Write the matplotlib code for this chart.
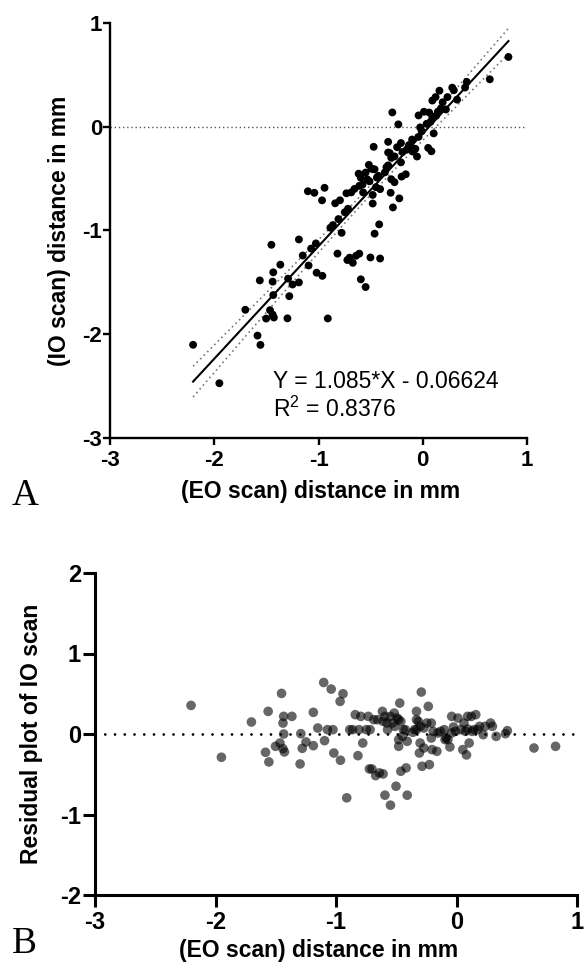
import numpy as np
import matplotlib
matplotlib.use("Agg")
import matplotlib.pyplot as plt

plt.rcParams['font.family'] = ['Liberation Sans', 'DejaVu Sans']
plt.rcParams['axes.unicode_minus'] = False
plt.rcParams['mathtext.fontset'] = 'custom'
plt.rcParams['mathtext.rm'] = 'Liberation Sans'
plt.rcParams['mathtext.it'] = 'Liberation Sans:italic'
plt.rcParams['mathtext.bf'] = 'Liberation Sans:bold'

# ---------------- data ----------------
# EO scan distance (mm) for each measurement
eo_mm = [-2.203, -1.951, -1.702, -1.585, -1.563, -1.557, -1.502, -1.452, -1.465, -1.440,
         -1.428, -1.440, -1.434, -1.434, -1.366, -1.298, -1.292, -1.280, -1.249, -1.188,
         -1.188, -1.151, -1.102, -1.095, -1.071, -1.040, -1.025, -1.018, -0.963, -0.966,
         -0.942, -0.911, -0.886, -0.862, -0.840, -0.818, -0.809, -0.794, -0.778, -0.748,
         -0.732, -0.717, -0.723, -0.702, -0.671, -0.655, -0.640, -0.615, -0.609, -0.609,
         -0.594, -0.578, -0.594, -0.548, -0.548, -0.532, -0.517, -0.502, -0.492, -0.471,
         -0.480, -0.462, -0.449, -0.480, -0.480, -0.418, -0.409, -0.425, -0.409, -0.348,
         -0.332, -0.332, -0.317, -0.302, -0.292, -0.308, -0.302, -0.286, -0.271, -0.246,
         -0.234, -0.225, -0.209, -0.203, -0.194, -0.163, -0.132, -0.102, -0.086, -0.071,
         -0.055, -0.040, -0.025, -0.009, 0.012, 0.037, 0.052, 0.083, 0.062, 0.074,
         0.105, 0.123, 0.129, 0.145, 0.160, 0.175, 0.222, 0.237, 0.283, 0.298,
         0.329, 0.406, 0.422, 0.643, 0.822,
         -0.511, -0.462, -0.440, -0.363, -0.271, -0.154, -0.095, -0.040, 0.092, 0.191,
         -0.686, -0.572, -0.209, -0.332, 0.092]
# residual of IO scan vs. fitted line (mm)
residual_mm = [0.355, -0.289, 0.149, -0.227, 0.281, -0.347, -0.153, 0.504, -0.112, -0.182,
               -0.223, 0.136, 0.219, 0.000, 0.219, -0.372, 0.004, -0.178, -0.099, 0.269,
               -0.145, 0.074, 0.640, -0.083, 0.054, 0.558, 0.054, -0.236, -0.326, 0.405,
               0.500, -0.793, 0.054, 0.054, 0.240, -0.269, 0.054, 0.219, -0.112, 0.054,
               0.219, 0.054, -0.434, -0.434, -0.517, 0.178, -0.483, 0.281, -0.496, 0.157,
               0.219, 0.136, -0.760, -0.884, 0.219, 0.136, 0.260, -0.649, 0.198, 0.384,
               0.178, -0.463, -0.029, -0.153, -0.070, -0.421, -0.760, 0.054, -0.091, 0.054,
               0.281, 0.178, 0.157, 0.095, 0.521, -0.236, -0.112, -0.401, -0.174, 0.136,
               0.343, -0.380, -0.050, -0.194, 0.033, -0.215, 0.033, 0.054, -0.050, -0.070,
               -0.161, 0.219, 0.087, 0.033, 0.198, 0.054, -0.194, -0.260, 0.136, 0.033,
               -0.112, 0.219, 0.033, 0.054, 0.240, 0.054, -0.008, 0.095, 0.136, 0.095,
               -0.029, 0.004, 0.041, -0.174, -0.153,
               0.095, 0.157, 0.054, 0.021, 0.074, 0.012, -0.070, 0.012, 0.062, 0.095,
               0.178, 0.054, 0.136, 0.054, 0.219]

slope = 1.085
intercept = -0.06624
r_squared = "0.8376"

x_ticks_top = [-3, -2, -1, 0, 1]
y_ticks_top = [-3, -2, -1, 0, 1]
x_ticks_bot = [-3, -2, -1, 0, 1]
y_ticks_bot = [-2, -1, 0, 1, 2]

x = np.array(eo_mm)
res = np.array(residual_mm)
io_mm = slope * x + intercept + res

# confidence band of the regression line (95 %)
n = len(x)
s = np.sqrt(np.sum(res ** 2) / (n - 2))
xbar = x.mean()
sxx = np.sum((x - xbar) ** 2)
xl = np.linspace(x.min(), x.max(), 200)
yl = slope * xl + intercept
se = s * np.sqrt(1.0 / n + (xl - xbar) ** 2 / sxx)
t95 = 1.98

# ---------------- figure ----------------
W, H = 584, 964
fig = plt.figure(figsize=(W / 100, H / 100), dpi=100)

def fx(px):
    return px / W

def fy(py):
    return 1 - py / H

# ---- Panel A ----
axA = fig.add_axes([fx(110), fy(438), fx(527) - fx(110), fy(23) - fy(438)])
axA.axhline(0, color='#555555', lw=1.0, ls=(0, (1, 2)), zorder=1)
axA.plot(xl, yl + t95 * se, color='#777777', lw=1.2, ls=(0, (1, 2)), zorder=2)
axA.plot(xl, yl - t95 * se, color='#777777', lw=1.2, ls=(0, (1, 2)), zorder=2)
axA.plot(xl, yl, color='black', lw=1.5, zorder=3)
axA.scatter(x, io_mm, s=32, color='black', edgecolors='none', zorder=4)
axA.set_xlim(-3, 1)
axA.set_ylim(-3, 1)
axA.set_xticks(x_ticks_top)
axA.set_yticks(y_ticks_top)
for sp in ['top', 'right']:
    axA.spines[sp].set_visible(False)
for sp in ['left', 'bottom']:
    axA.spines[sp].set_linewidth(1.7)
axA.tick_params(axis='both', direction='out', length=4.7, width=1.7, labelsize=16)
axA.tick_params(axis='x', pad=4)
axA.tick_params(axis='y', pad=1)
for lab in axA.get_xticklabels() + axA.get_yticklabels():
    lab.set_fontweight('bold')
axA.set_xlabel('(EO scan) distance in mm', fontsize=16.5, fontweight='bold', va='center')
axA.xaxis.set_label_coords(0.506, (fy(492) - fy(438)) / (fy(23) - fy(438)))
axA.set_ylabel('(IO scan) distance in mm', fontsize=16.5, fontweight='bold', va='center')
axA.yaxis.set_label_coords((60 - 110) / (527 - 110), 0.5)
axA.text(-1.436, -2.518, 'Y = 1.085*X - 0.06624', fontsize=16.5, va='baseline', ha='left')
axA.text(-1.436, -2.797, 'R$^2$ = ' + r_squared, fontsize=16.5, va='baseline', ha='left')
fig.text(fx(12), fy(505), 'A', fontsize=27, family=['Liberation Serif', 'DejaVu Serif'],
         va='baseline', ha='left')

# ---- Panel B ----
axB = fig.add_axes([fx(95), fy(895), fx(577) - fx(95), fy(573) - fy(895)])
axB.axhline(0, color='black', lw=2.0, ls=(0, (0.01, 3.5)), dash_capstyle='round', zorder=1)
axB.scatter(x, res, s=48, color='black', alpha=0.6, edgecolors='none', zorder=3)
axB.set_xlim(-3, 1)
axB.set_ylim(-2, 2)
axB.set_xticks(x_ticks_bot)
axB.set_yticks(y_ticks_bot)
for sp in ['top', 'right']:
    axB.spines[sp].set_visible(False)
for sp in ['left', 'bottom']:
    axB.spines[sp].set_linewidth(2.2)
axB.tick_params(axis='both', direction='out', length=8.6, width=2.2, labelsize=17)
axB.tick_params(axis='x', pad=3)
axB.tick_params(axis='y', pad=1.5)
for lab in axB.get_xticklabels() + axB.get_yticklabels():
    lab.set_fontweight('bold')
axB.set_xlabel('(EO scan) distance in mm', fontsize=16.5, fontweight='bold', va='center')
axB.xaxis.set_label_coords((319 - 95) / (577 - 95), (fy(950) - fy(895)) / (fy(573) - fy(895)))
axB.set_ylabel('Residual plot of IO scan', fontsize=16.5, fontweight='bold', va='center')
axB.yaxis.set_label_coords((32 - 95) / (577 - 95), 0.5)
fig.text(fx(12), fy(953), 'B', fontsize=27, family=['Liberation Serif', 'DejaVu Serif'],
         va='baseline', ha='left')

fig.savefig('out.png', dpi=100)
